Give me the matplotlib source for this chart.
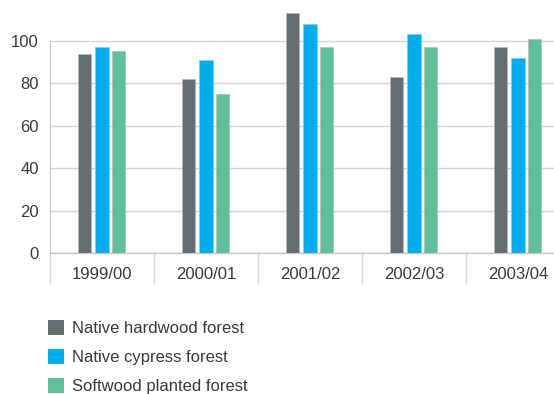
import numpy as np
import matplotlib
matplotlib.use('Agg')
import matplotlib.pyplot as plt
from matplotlib.patches import Patch
import matplotlib.transforms as mtransforms

plt.rcParams['font.family'] = ['Liberation Sans', 'DejaVu Sans']

# ── data ──────────────────────────────────────────────────────────────────────
years    = ['1999/00', '2000/01', '2001/02', '2002/03', '2003/04']
hardwood = [94, 82, 113, 83, 97]
cypress  = [97, 91, 108, 103, 92]
softwood = [95, 75, 97, 97, 101]

series = ['Native hardwood forest', 'Native cypress forest', 'Softwood planted forest']
colors = ['#646e73', '#00aeef', '#5fc19a']
offsets = [-0.17, 0.0, 0.16]
TXT = '#3a3a3a'
GRID = '#d4d4d4'

fig = plt.figure(figsize=(5.54, 3.94), dpi=100)
ax = fig.add_axes([0.0903, 0.357, 0.9386, 0.642])

x = np.arange(len(years))
for vals, col, off in zip([hardwood, cypress, softwood], colors, offsets):
    ax.bar(x + off, vals, 0.13, color=col, edgecolor='#b8b8b8',
           linewidth=0.5, zorder=3)

ax.set_xlim(-0.5, len(years) - 0.5)
ax.set_ylim(0, 119)
ax.set_yticks([0, 20, 40, 60, 80, 100])
ax.yaxis.grid(True, color=GRID, linewidth=1.0, zorder=0)
ax.set_axisbelow(True)

for s in ['top', 'right']:
    ax.spines[s].set_visible(False)
ax.spines['left'].set_bounds(0, 100)
ax.spines['left'].set_color('#c8c8c8')
ax.spines['bottom'].set_color('#c8c8c8')
ax.spines['bottom'].set_linewidth(1.0)

ax.tick_params(axis='y', length=0, pad=8, labelsize=12, labelcolor=TXT)
ax.tick_params(axis='x', length=0, pad=10, labelsize=12, labelcolor=TXT)
ax.set_xticks(x)
ax.set_xticklabels(years)

# category separators below the axis
trans = mtransforms.blended_transform_factory(ax.transData, ax.transAxes)
for b in np.arange(-0.5, len(years), 1.0):
    ax.plot([b, b], [0, -0.118], transform=trans, color='#d8d8d8',
            linewidth=1.0, clip_on=False)

handles = [Patch(facecolor=c, edgecolor='none', label=l) for c, l in zip(colors, series)]
fig.legend(handles=handles, loc='upper left', bbox_to_anchor=(0.0866, 0.188),
           frameon=False, fontsize=12, labelcolor=TXT, borderpad=0,
           handlelength=0.96, handleheight=1.0, handletextpad=0.48,
           labelspacing=0.77, borderaxespad=0)

fig.savefig('out.png', dpi=100)
